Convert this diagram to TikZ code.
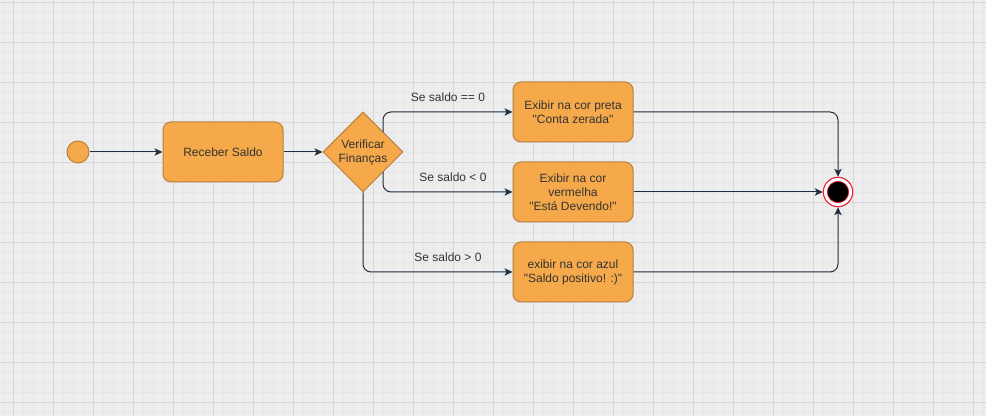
\documentclass[tikz,border=0pt]{standalone}
\usepackage{fontspec}
\setmainfont{Liberation Sans}
\usetikzlibrary{shapes.geometric,arrows.meta}
\definecolor{bg}{HTML}{EDEDED}
\definecolor{gridminor}{HTML}{E6E6E6}
\definecolor{gridmajor}{HTML}{D6D6D6}
\definecolor{orangefill}{HTML}{F5A94A}
\definecolor{orangeline}{HTML}{B8813F}
\definecolor{edgecol}{HTML}{1F2F3F}
\definecolor{txt}{HTML}{333333}
\definecolor{endred}{HTML}{E8202A}
\tikzset{
  actbox/.style={draw=orangeline, fill=orangefill, line width=0.75pt, rounded corners=6pt,
    minimum width=90pt, minimum height=45pt, inner sep=0pt, align=center,
    text=txt, font=\fontsize{9}{10.5}\selectfont},
  decbox/.style={diamond, draw=orangeline, fill=orangefill, line width=0.75pt,
    minimum width=60pt, minimum height=60pt, inner sep=0pt, align=center,
    text=txt, font=\fontsize{9}{10.5}\selectfont},
  flow/.style={draw=edgecol, line width=0.75pt, rounded corners=6pt,
    -{Stealth[length=6pt,width=5.5pt,inset=1.5pt]}},
  lbl/.style={text=txt, font=\fontsize{9}{10.5}\selectfont, inner sep=0pt},
}
\begin{document}
\begin{tikzpicture}[x=0.75pt,y=-0.75pt]
\useasboundingbox (0,0) rectangle (986,416);
\fill[bg] (0,0) rectangle (986,416);
\foreach \x in {3,13,...,983} \draw[gridminor, line width=0.35pt] (\x,0) -- (\x,416);
\foreach \y in {2,12,...,412} \draw[gridminor, line width=0.35pt] (0,\y) -- (986,\y);
\foreach \x in {13,53,...,973} \draw[gridmajor, line width=0.6pt] (\x,0) -- (\x,416);
\foreach \y in {2,42,...,402} \draw[gridmajor, line width=0.6pt] (0,\y) -- (986,\y);

\node[circle, draw=orangeline, fill=orangefill, line width=0.75pt, minimum size=16.5pt, inner sep=0pt] (start) at (78,152) {};
\node[actbox] (receber) at (223,152) {Receber Saldo};
\node[decbox] (verif) at (363,152) {Verificar\\Finanças};
\node[actbox] (preta) at (573,112) {Exibir na cor preta\\\textquotedbl Conta zerada\textquotedbl};
\node[actbox] (verm) at (573,192) {Exibir na cor\\vermelha\\\textquotedbl Está Devendo!\textquotedbl};
\node[actbox] (azul) at (573,272) {exibir na cor azul\\\textquotedbl Saldo positivo! :)\textquotedbl};
\node[circle, draw=endred, fill=white, line width=0.8pt, minimum size=22pt, inner sep=0pt] (fim) at (838,192) {};
\node[circle, draw=endred, fill=black, line width=0.6pt, minimum size=16pt, inner sep=0pt] (fimin) at (838,192) {};

\coordinate (v1) at (383,132);
\coordinate (v2) at (383,172);

\draw[flow] (start) -- (receber);
\draw[flow] (receber) -- (verif);
\draw[flow] (v1) |- (preta.west);
\draw[flow] (v2) |- (verm.west);
\draw[flow] (verif.south) |- (azul.west);
\draw[flow] (preta.east) -| (fim.north);
\draw[flow] (verm.east) -- (fim.west);
\draw[flow] (azul.east) -| (fim.south);

\node[lbl] (l1) at (448,97) {Se saldo == 0};
\node[lbl] (l2) at (453,177) {Se saldo < 0};
\node[lbl] (l3) at (448,257) {Se saldo > 0};
\end{tikzpicture}
\end{document}
